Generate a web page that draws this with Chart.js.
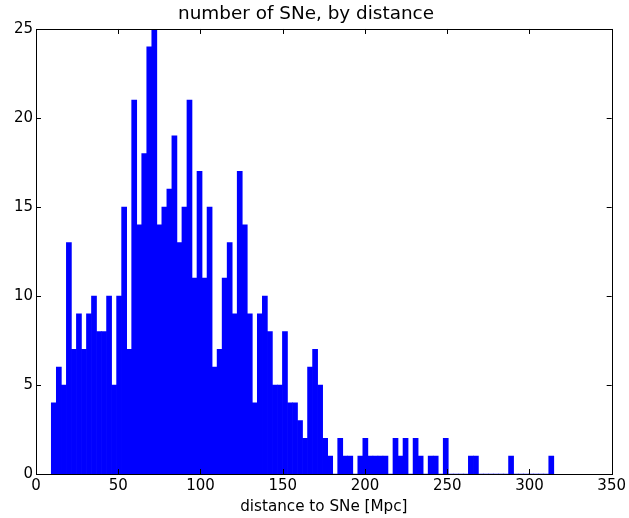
<!DOCTYPE html>
<html>
<head>
<meta charset="utf-8">
<script src="https://cdn.jsdelivr.net/npm/chart.js@4.4.1/dist/chart.umd.min.js"></script>
<style>
  html, body { margin: 0; padding: 0; background: #fff; }
  canvas { display: block; }
</style>
</head>
<body>
<canvas id="grafico" width="629" height="518"></canvas>
<script>
// histogram range (Mpc) and number of bins
const distMin = 9.3;
const distMax = 314.8;
const nBins = 100;

// number of SNe in each bin, left to right
const counts = [
  4, 6, 5, 13, 7, 9, 7, 9, 10, 8, 8, 10, 5, 10, 15, 7, 21, 14, 18, 24, 25,
  14, 15, 16, 19, 13, 15, 21, 11, 17, 11, 15, 6, 7, 11, 13, 9, 17, 14,
  9, 4, 9, 10, 8, 5, 5, 8, 4, 4, 3, 2, 6, 7, 5, 2, 1, 0, 2, 1, 1, 0, 1, 2,
  1, 1, 1, 1, 0,
  2, 1, 2, 0, 2, 1, 0, 1, 1, 0, 2,
  0, 0, 0, 0, 1, 1,
  0, 0, 0, 0, 0, 0, 1,
  0, 0, 0, 0, 0, 0, 0, 1
];

const xTicks = [0, 50, 100, 150, 200, 250, 300, 350];
const yTicks = [0, 5, 10, 15, 20, 25];

const binWidth = (distMax - distMin) / nBins;
const pontos = counts.map((c, i) => ({ x: distMin + binWidth * (i + 0.5), y: c }));

const fonte = 'DejaVu Sans';

// black frame with inward ticks on all four sides (matplotlib look)
const moldura = {
  id: 'moldura',
  afterDraw(chart) {
    const { ctx, chartArea: a, scales: { x, y } } = chart;
    const len = 5;
    ctx.save();
    ctx.strokeStyle = '#000';
    ctx.lineWidth = 1;
    ctx.beginPath();
    xTicks.forEach(v => {
      const px = Math.round(x.getPixelForValue(v)) + 0.5;
      ctx.moveTo(px, a.bottom); ctx.lineTo(px, a.bottom - len);
      ctx.moveTo(px, a.top); ctx.lineTo(px, a.top + len);
    });
    yTicks.forEach(v => {
      const py = Math.round(y.getPixelForValue(v)) + 0.5;
      ctx.moveTo(a.left, py); ctx.lineTo(a.left + len, py);
      ctx.moveTo(a.right, py); ctx.lineTo(a.right - len, py);
    });
    ctx.stroke();
    ctx.strokeRect(Math.round(a.left) + 0.5, Math.round(a.top) + 0.5,
      Math.round(a.right - a.left), Math.round(a.bottom - a.top));
    ctx.restore();
  }
};

new Chart(document.getElementById('grafico').getContext('2d'), {
  type: 'bar',
  data: {
    datasets: [{
      data: pontos,
      backgroundColor: '#0000ff',
      borderWidth: 0,
      barPercentage: 1,
      categoryPercentage: 1
    }]
  },
  options: {
    responsive: false,
    animation: false,
    layout: { padding: { left: 0, right: 17, top: 0, bottom: 0 } },
    plugins: {
      legend: { display: false },
      tooltip: { enabled: false },
      title: {
        display: true,
        text: 'number of SNe, by distance',
        color: '#000',
        font: { family: fonte, size: 18.4, weight: 'normal' },
        padding: { top: 3.5, bottom: 3.4 }
      }
    },
    scales: {
      x: {
        type: 'linear',
        min: 0,
        max: 350,
        offset: false,
        grid: { display: false, drawTicks: false },
        border: { display: false },
        afterBuildTicks: s => { s.ticks = xTicks.map(v => ({ value: v })); },
        afterFit: s => { s.height = 44; },
        ticks: {
          autoSkip: false,
          maxRotation: 0,
          padding: 3,
          color: '#000',
          font: { family: fonte, size: 15 }
        },
        title: {
          display: true,
          text: 'distance to SNe [Mpc]',
          color: '#000',
          font: { family: fonte, size: 15.2 },
          padding: { top: 2, bottom: 2 }
        }
      },
      y: {
        min: 0,
        max: 25,
        grid: { display: false, drawTicks: false },
        border: { display: false },
        afterBuildTicks: s => { s.ticks = yTicks.map(v => ({ value: v })); },
        afterFit: s => { s.width = 36; },
        ticks: {
          padding: 3,
          color: '#000',
          font: { family: fonte, size: 15 }
        }
      }
    }
  },
  plugins: [moldura]
});
</script>
</body>
</html>
